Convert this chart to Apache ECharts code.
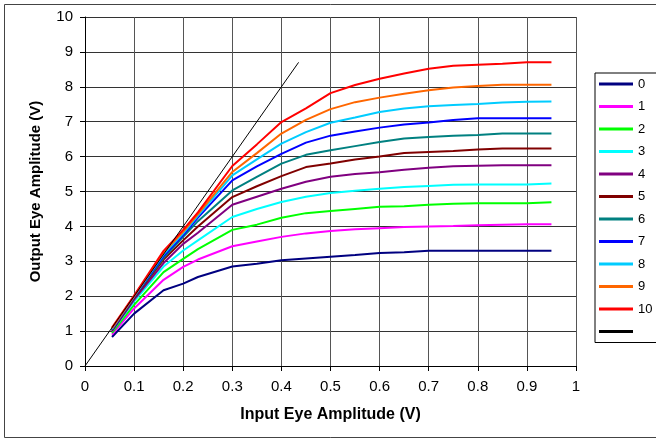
<!DOCTYPE html>
<html>
<head>
<meta charset="utf-8">
<script src="https://cdn.jsdelivr.net/npm/echarts@6/dist/echarts.min.js"></script>
<style>
  html, body { margin: 0; padding: 0; background: #fff; }
  #myChart { width: 656px; height: 442px; }
</style>
</head>
<body>
<div id="myChart"></div>
<script>
// input amplitude (V) sample points shared by the curves
var inputV = [0.055, 0.1, 0.16, 0.2, 0.23, 0.3, 0.35, 0.4, 0.45, 0.5, 0.55, 0.6, 0.65, 0.7, 0.75, 0.8, 0.85, 0.9, 0.95];

// output amplitude (V), one array per setting 0..10
var out0  = [0.83, 1.5, 2.17, 2.36, 2.55, 2.85, 2.93, 3.03, 3.08, 3.13, 3.18, 3.24, 3.26, 3.3, 3.3, 3.3, 3.3, 3.3, 3.3];
var out1  = [0.9, 1.65, 2.47, 2.84, 3.05, 3.43, 3.57, 3.7, 3.8, 3.87, 3.92, 3.95, 3.98, 4.0, 4.01, 4.03, 4.05, 4.06, 4.06];
var out2  = [0.95, 1.75, 2.69, 3.07, 3.35, 3.9, 4.05, 4.25, 4.38, 4.44, 4.5, 4.56, 4.58, 4.62, 4.65, 4.66, 4.66, 4.66, 4.69];
var out3  = [1.0, 1.85, 2.85, 3.31, 3.6, 4.27, 4.5, 4.7, 4.85, 4.96, 5.02, 5.08, 5.13, 5.16, 5.19, 5.2, 5.2, 5.2, 5.23];
var out4  = [1.0, 1.9, 2.95, 3.5, 3.82, 4.62, 4.85, 5.08, 5.28, 5.42, 5.5, 5.55, 5.62, 5.68, 5.72, 5.74, 5.75, 5.75, 5.75];
var out5  = [1.02, 1.95, 3.05, 3.6, 4.0, 4.84, 5.15, 5.44, 5.7, 5.8, 5.92, 6.0, 6.1, 6.13, 6.16, 6.2, 6.23, 6.23, 6.23];
var out6  = [1.03, 1.97, 3.1, 3.7, 4.15, 5.03, 5.42, 5.8, 6.05, 6.18, 6.3, 6.42, 6.52, 6.56, 6.6, 6.62, 6.66, 6.66, 6.66];
var out7  = [1.05, 1.98, 3.15, 3.75, 4.25, 5.32, 5.72, 6.08, 6.4, 6.6, 6.72, 6.83, 6.92, 6.98, 7.05, 7.1, 7.1, 7.1, 7.1];
var out8  = [1.06, 2.0, 3.2, 3.8, 4.3, 5.46, 5.92, 6.37, 6.7, 6.97, 7.12, 7.28, 7.38, 7.44, 7.48, 7.51, 7.55, 7.57, 7.58];
var out9  = [1.08, 2.0, 3.25, 3.85, 4.35, 5.56, 6.1, 6.66, 7.05, 7.36, 7.56, 7.69, 7.8, 7.9, 7.98, 8.02, 8.06, 8.06, 8.06];
var out10 = [1.1, 2.02, 3.3, 3.9, 4.4, 5.73, 6.35, 6.99, 7.38, 7.82, 8.05, 8.23, 8.38, 8.52, 8.6, 8.63, 8.66, 8.7, 8.7];

// straight reference line (gain 20)
var refX = [0, 0.435];
var refY = [0, 8.7];

var seriesNames = ['0', '1', '2', '3', '4', '5', '6', '7', '8', '9', '10'];
var seriesData = [out0, out1, out2, out3, out4, out5, out6, out7, out8, out9, out10];
var colors = ['#000080', '#ff00ff', '#00ff00', '#00ffff', '#800080', '#800000',
              '#008080', '#0000ff', '#00ccff', '#ff6600', '#ff0000'];

function pairs(xs, ys) {
  var res = [];
  for (var i = 0; i < xs.length; i++) res.push([xs[i], ys[i]]);
  return res;
}

var series = [];
for (var k = 0; k < seriesNames.length; k++) {
  series.push({
    name: seriesNames[k],
    type: 'line',
    symbol: 'none',
    data: pairs(inputV, seriesData[k]),
    lineStyle: { color: colors[k], width: 2 },
    itemStyle: { color: colors[k] }
  });
}
series.push({
  name: ' ',
  type: 'line',
  symbol: 'none',
  data: pairs(refX, refY),
  lineStyle: { color: '#000', width: 1 },
  itemStyle: { color: '#000' }
});

var fontName = 'Liberation Sans, Arial, sans-serif';

var option = {
  animation: false,
  backgroundColor: '#fff',
  graphic: [{
    type: 'rect',
    shape: { x: 4.5, y: 4.5, width: 660, height: 433 },
    style: { fill: 'none', stroke: '#444', lineWidth: 1 },
    silent: true
  }],
  legend: {
    orient: 'vertical',
    left: 595,
    top: 73,
    padding: [4, 30, 4, 4],
    icon: 'rect',
    itemGap: 8.5,
    itemWidth: 34,
    itemHeight: 3,
    borderColor: '#000',
    borderWidth: 1,
    textStyle: { fontFamily: fontName, fontSize: 13, lineHeight: 14, color: '#000' },
    data: seriesNames.concat([' '])
  },
  grid: { left: 85, top: 17, width: 491, height: 349, containLabel: false },
  xAxis: {
    type: 'value',
    min: 0, max: 1, interval: 0.1,
    name: 'Input Eye Amplitude (V)',
    nameLocation: 'middle',
    nameGap: 41,
    nameTextStyle: { fontFamily: fontName, fontSize: 16, fontWeight: 'bold', color: '#000' },
    axisLine: { lineStyle: { color: '#000', width: 1 } },
    axisTick: { show: true, inside: false, length: 5, lineStyle: { color: '#000' } },
    axisLabel: { margin: 13, fontFamily: fontName, fontSize: 15, color: '#000' },
    splitLine: { show: true, lineStyle: { color: '#555', width: 1 } }
  },
  yAxis: {
    type: 'value',
    min: 0, max: 10, interval: 1,
    name: 'Output Eye Amplitude (V)',
    nameLocation: 'middle',
    nameGap: 42,
    nameTextStyle: { fontFamily: fontName, fontSize: 15, fontWeight: 'bold', color: '#000' },
    axisLine: { show: true, lineStyle: { color: '#000', width: 1 } },
    axisTick: { show: true, inside: false, length: 5, lineStyle: { color: '#000' } },
    axisLabel: { margin: 12, fontFamily: fontName, fontSize: 15, color: '#000' },
    splitLine: { show: true, lineStyle: { color: '#333', width: 1 } }
  },
  series: series
};

var myChart = echarts.init(document.getElementById('myChart'), null, { renderer: 'canvas' });
myChart.setOption(option);
</script>
</body>
</html>
